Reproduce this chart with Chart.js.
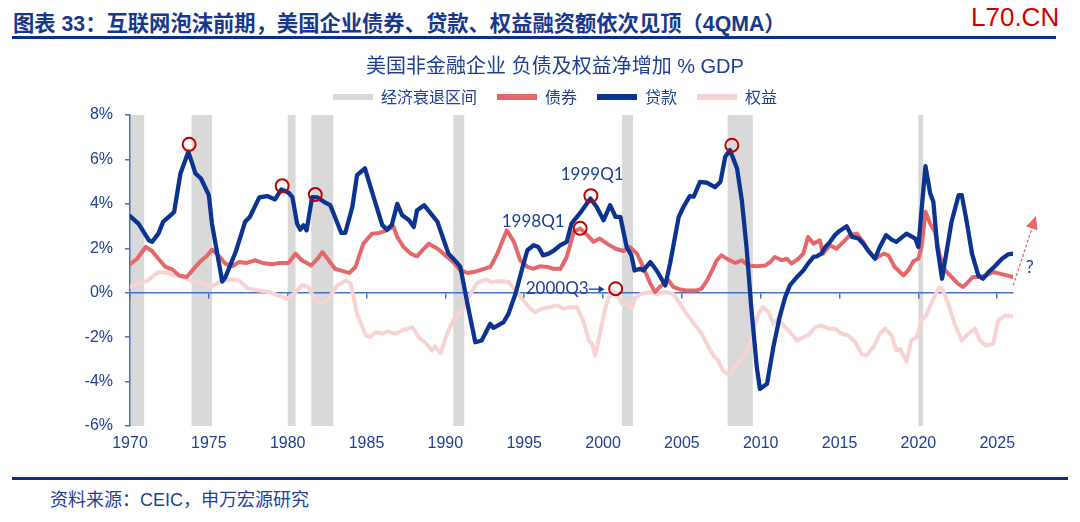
<!DOCTYPE html>
<html>
<head>
<meta charset="utf-8">
<script src="https://cdn.jsdelivr.net/npm/chart.js@4.4.1/dist/chart.umd.min.js"></script>
<style>
  body { margin: 0; width: 1080px; height: 522px; background: #fff; position: relative; overflow: hidden;
         font-family: "Liberation Sans", "Noto Sans CJK SC", sans-serif; }
  #head { position: absolute; left: 13px; top: 11px; font-size: 21.3px; line-height: 26px; font-weight: bold; color: #17388c; white-space: nowrap; }
  #brand { position: absolute; left: 971px; top: 2px; font-size: 26px; line-height: 30px; color: #d40000; }
  #rule { position: absolute; left: 12px; top: 36px; width: 1044px; height: 3px; background: #0b2f8c; }
  #wrap { position: absolute; left: 0; top: 40px; }
  #footRule { position: absolute; left: 12px; top: 477px; width: 1056px; height: 3px; background: #0b2f8c; }
  #foot { position: absolute; left: 50px; top: 489px; font-size: 18px; line-height: 22px; color: #1f3f96; white-space: nowrap; }
</style>
</head>
<body>
<div id="head">图表 33：互联网泡沫前期，美国企业债券、贷款、权益融资额依次见顶（4QMA）</div>
<div id="brand">L70.CN</div>
<div id="rule"></div>
<div id="wrap"><canvas id="chart" width="1080" height="420"></canvas></div>
<div id="footRule"></div>
<div id="foot">资料来源：CEIC，申万宏源研究</div>

<script>
// ---------- data ----------
const xTicks = [1970, 1975, 1980, 1985, 1990, 1995, 2000, 2005, 2010, 2015, 2020, 2025];
const yTicks = [-6, -4, -2, 0, 2, 4, 6, 8];

// recession periods (start, end)
const recessionStart = [1970.0, 1973.9, 1980.0, 1981.5, 1990.5, 2001.2, 2007.9, 2020.0];
const recessionEnd   = [1970.9, 1975.2, 1980.5, 1982.9, 1991.2, 2001.9, 2009.5, 2020.3];

// 贷款
const loanYears = [1970.0, 1970.55, 1971.2, 1971.4, 1971.8, 1972.1, 1972.6, 1972.8, 1973.2, 1973.7,
  1974.15, 1974.5, 1975.0, 1975.2, 1975.85, 1976.05, 1976.7, 1977.3, 1977.6, 1978.2,
  1978.7, 1979.2, 1979.6, 1980.06, 1980.3, 1980.6, 1980.8, 1981.0, 1981.2, 1981.55,
  1981.9, 1982.3, 1982.7, 1983.0, 1983.4, 1983.65, 1984.1, 1984.4, 1984.9, 1985.45,
  1986.0, 1986.3, 1986.6, 1986.95, 1987.25, 1987.7, 1988.0, 1988.2, 1988.65, 1989.15,
  1989.5, 1989.9, 1990.2, 1990.7, 1990.95, 1991.4, 1991.9, 1992.3, 1992.85, 1993.05,
  1993.7, 1994.0, 1994.45, 1994.9, 1995.2, 1995.6, 1995.9, 1996.2, 1996.55, 1996.9,
  1997.3, 1997.7, 1998.0, 1998.55, 1999.2, 1999.6, 2000.03, 2000.45, 2000.8, 2001.1,
  2001.5, 2001.8, 2002.0, 2002.35, 2002.55, 2003.0, 2003.4, 2003.95, 2004.25, 2004.8,
  2005.1, 2005.5, 2005.75, 2006.15, 2006.6, 2007.1, 2007.45, 2007.75, 2008.05, 2008.5,
  2008.8, 2009.1, 2009.4, 2009.75, 2009.95, 2010.4, 2010.8, 2011.2, 2011.55, 2011.85,
  2012.3, 2012.7, 2013.0, 2013.35, 2013.55, 2013.85, 2014.1, 2014.4, 2014.7, 2015.0,
  2015.45, 2015.8, 2016.2, 2016.5, 2016.8, 2017.25, 2017.55, 2017.95, 2018.3, 2018.6,
  2019.25, 2019.8, 2020.0, 2020.2, 2020.45, 2020.75, 2020.95, 2021.2, 2021.5, 2021.8,
  2022.1, 2022.55, 2022.75, 2023.05, 2023.4, 2023.8, 2024.1, 2024.45, 2024.85, 2025.3,
  2025.7, 2026.0];
const loanValues = [3.45, 3.1, 2.36, 2.29, 2.66, 3.19, 3.5, 3.64, 5.37, 6.35,
  5.37, 5.14, 4.39, 3.1, 0.5, 0.7, 1.83, 3.19, 3.41, 4.29,
  4.35, 4.2, 4.65, 4.5, 4.3, 3.1, 2.84, 3.04, 2.8, 4.3,
  4.29, 4.09, 3.94, 3.41, 2.69, 2.69, 3.86, 5.29, 5.6, 4.3,
  3.04, 2.84, 3.04, 4.0, 3.5, 3.26, 2.96, 3.7, 3.94, 3.5,
  3.19, 2.36, 1.76, 1.38, 1.16, -0.5, -2.23, -2.15, -1.4, -1.58,
  -1.32, -0.95, -0.05, 1.16, 1.91, 2.14, 2.06, 1.68, 1.76, 1.91,
  2.14, 2.29, 3.11, 3.59, 4.24, 3.86, 3.26, 3.94, 3.41, 3.41,
  2.06, 1.68, 1.0, 1.08, 1.0, 1.38, 1.0, 0.33, 1.31, 3.41,
  3.86, 4.35, 4.32, 4.99, 4.95, 4.75, 5.0, 6.12, 6.42, 5.59,
  4.17, 2.06, -0.65, -3.35, -4.33, -4.1, -2.45, -1.1, -0.2, 0.33,
  0.71, 1.0, 1.31, 1.61, 1.64, 1.76, 2.06, 2.29, 2.59, 2.78,
  2.99, 2.51, 2.44, 2.21, 1.91, 1.53, 2.06, 2.59, 2.39, 2.29,
  2.66, 2.44, 2.06, 3.71, 5.7, 4.47, 4.09, 2.06, 0.63, 1.91,
  3.19, 4.39, 4.39, 3.26, 1.76, 0.78, 0.63, 0.93, 1.19, 1.53,
  1.73, 1.76];

// 债券
const bondYears = [1970.0, 1970.45, 1971.0, 1971.4, 1971.8, 1972.25, 1972.7, 1973.1, 1973.6, 1974.05,
  1974.5, 1974.9, 1975.2, 1975.5, 1976.05, 1976.5, 1976.9, 1977.4, 1977.95, 1978.4,
  1979.0, 1979.5, 1980.05, 1980.5, 1980.9, 1981.5, 1981.9, 1982.2, 1982.6, 1983.0,
  1983.45, 1983.9, 1984.3, 1984.8, 1985.35, 1985.8, 1986.3, 1986.7, 1986.95, 1987.35,
  1987.8, 1988.2, 1988.6, 1988.95, 1989.5, 1990.0, 1990.5, 1990.95, 1991.4, 1991.8,
  1992.3, 1992.85, 1993.3, 1993.9, 1994.35, 1994.75, 1995.2, 1995.6, 1996.0, 1996.45,
  1996.85, 1997.3, 1997.7, 1998.15, 1998.55, 1999.0, 1999.4, 1999.8, 2000.25, 2000.8,
  2001.3, 2001.7, 2002.15, 2002.55, 2003.0, 2003.3, 2003.6, 2004.15, 2004.45, 2004.9,
  2005.3, 2005.95, 2006.25, 2006.6, 2006.95, 2007.2, 2007.5, 2007.95, 2008.4, 2008.8,
  2009.2, 2009.75, 2010.3, 2010.6, 2010.9, 2011.35, 2011.65, 2011.95, 2012.4, 2012.7,
  2013.0, 2013.35, 2013.75, 2013.95, 2014.4, 2014.8, 2015.25, 2015.65, 2016.1, 2016.5,
  2016.8, 2017.25, 2017.8, 2018.1, 2018.5, 2019.05, 2019.35, 2019.7, 2020.0, 2020.2,
  2020.45, 2020.75, 2021.05, 2021.35, 2021.7, 2022.1, 2022.5, 2022.85, 2023.15, 2023.45,
  2023.9, 2024.3, 2024.75, 2025.15, 2025.6, 2026.0];
const bondValues = [1.28, 1.53, 2.06, 1.88, 1.53, 1.16, 1.04, 0.78, 0.71, 1.08,
  1.43, 1.68, 1.94, 1.76, 1.31, 1.19, 1.38, 1.34, 1.46, 1.34,
  1.28, 1.34, 1.34, 1.76, 1.46, 1.23, 1.53, 1.83, 1.46, 1.08,
  0.98, 0.89, 1.16, 2.21, 2.66, 2.69, 2.81, 2.99, 2.51, 2.06,
  1.76, 1.64, 1.95, 2.21, 1.98, 1.68, 1.38, 1.0, 0.89, 0.93,
  1.04, 1.16, 1.76, 2.81, 2.29, 1.46, 1.16, 1.08, 1.19, 1.16,
  1.08, 1.08, 1.61, 2.74, 2.89, 2.59, 2.29, 2.44, 2.21, 1.98,
  1.88, 2.06, 1.76, 1.16, 0.41, 0.03, 0.26, 0.56, 0.26, 0.14,
  0.1, 0.1, 0.18, 0.56, 1.05, 1.45, 1.68, 1.49, 1.34, 1.46,
  1.23, 1.19, 1.23, 1.38, 1.61, 1.46, 1.53, 1.31, 1.53, 1.76,
  2.51, 2.21, 2.36, 1.76, 2.14, 1.98, 2.29, 2.59, 2.66, 2.29,
  1.91, 1.53, 1.76, 1.68, 1.16, 0.78, 1.0, 1.43, 1.53, 2.06,
  3.64, 3.11, 2.74, 1.68, 1.0, 0.71, 0.41, 0.26, 0.48, 0.71,
  0.71, 0.78, 0.93, 0.86, 0.78, 0.71];

// 权益
const equityYears = [1970.0, 1970.55, 1971.1, 1971.4, 1971.8, 1972.35, 1972.8, 1973.3, 1973.85, 1974.5,
  1975.0, 1975.3, 1975.8, 1976.35, 1976.9, 1977.5, 1978.2, 1978.8, 1979.4, 1979.95,
  1980.4, 1980.9, 1981.3, 1981.75, 1982.2, 1982.6, 1983.15, 1983.7, 1984.0, 1984.4,
  1984.95, 1985.25, 1985.6, 1986.0, 1986.3, 1986.85, 1987.35, 1987.9, 1988.3, 1988.8,
  1989.15, 1989.35, 1989.7, 1990.1, 1990.5, 1991.05, 1991.6, 1992.0, 1992.55, 1993.0,
  1993.5, 1994.0, 1994.45, 1994.95, 1995.4, 1995.7, 1996.1, 1996.65, 1997.1, 1997.5,
  1997.9, 1998.35, 1998.75, 1999.1, 1999.3, 1999.5, 1999.8, 2000.15, 2000.55, 2000.9,
  2001.2, 2001.5, 2001.8, 2002.05, 2002.45, 2003.0, 2003.4, 2003.95, 2004.45, 2004.9,
  2005.3, 2005.85, 2006.25, 2006.7, 2007.0, 2007.3, 2007.6, 2008.05, 2008.5, 2008.9,
  2009.2, 2009.5, 2009.85, 2010.15, 2010.5, 2010.8, 2011.1, 2011.55, 2011.95, 2012.3,
  2012.7, 2013.0, 2013.45, 2013.85, 2014.3, 2014.7, 2015.15, 2015.55, 2016.0, 2016.4,
  2016.7, 2017.15, 2017.55, 2017.9, 2018.3, 2018.6, 2018.85, 2019.25, 2019.55, 2019.9,
  2020.2, 2020.5, 2020.85, 2021.3, 2021.5, 2021.9, 2022.3, 2022.75, 2023.15, 2023.6,
  2023.9, 2024.3, 2024.75, 2025.05, 2025.5, 2026.0];
const equityValues = [0.26, 0.44, 0.53, 0.71, 0.93, 0.9, 0.78, 0.71, 0.56, 0.48,
  0.26, 0.33, 0.53, 0.59, 0.56, 0.18, 0.1, 0.03, -0.12, -0.27,
  -0.05, 0.33, 0.26, -0.35, -0.5, -0.27, 0.33, 0.56, 0.41, -0.95,
  -1.92, -2.0, -1.77, -1.85, -1.73, -1.85, -1.67, -1.55, -2.0, -2.3,
  -2.6, -2.42, -2.72, -1.85, -1.25, -0.8, -0.05, 0.44, 0.59, 0.48,
  0.53, 0.48, 0.1, -0.35, -0.72, -0.87, -0.72, -0.65, -0.57, -0.72,
  -0.65, -0.65, -1.25, -2.15, -2.3, -2.83, -1.85, -0.65, 0.1, -0.05,
  -0.5, -0.5, -0.72, -0.2, -0.05, 0.03, -0.08, 0.03, -0.05, -0.5,
  -0.95, -1.47, -1.85, -2.45, -2.83, -3.05, -3.5, -3.73, -3.2, -2.9,
  -2.53, -1.85, -0.95, -0.65, -0.87, -1.4, -1.17, -1.55, -1.85, -2.15,
  -2.0, -1.92, -1.55, -1.47, -1.62, -1.62, -1.85, -1.92, -2.23, -2.75,
  -2.83, -2.45, -1.85, -1.62, -1.92, -2.6, -2.53, -3.13, -2.15, -2.0,
  -1.25, -1.02, -0.42, 0.23, 0.18, -0.5, -1.4, -2.15, -1.85, -1.62,
  -2.15, -2.38, -2.3, -1.25, -1.02, -1.07];

// circled peaks
const peakYears  = [1973.75, 1979.65, 1981.75, 1998.55, 1999.23, 2000.8, 2008.17];
const peakValues = [6.68, 4.81, 4.42, 2.9, 4.37, 0.18, 6.64];

// text notes (centre of text)
const noteTexts  = ["1999Q1", "1998Q1", "2000Q3", "?"];
const noteYears  = [1999.31, 1995.57, 1997.09, 2027.07];
const noteValues = [5.31, 3.19, 0.17, 1.16];

// ---------- styles ----------
const AXIS = "#4472C4";
const TEXT = "#1f3f96";
const LOAN = "#0B3491";
const BOND = "#E4676A";
const EQUITY = "#F8D3D3";
const GREY = "#D9D9D9";
const CIRCLE = "#C00000";

const pts = (xs, ys) => xs.map((x, i) => ({ x, y: ys[i] }));
const setTicks = (list) => (scale) => { scale.ticks = list.map((v) => ({ value: v })); };

const recessionBands = {
  id: "recessionBands",
  beforeDraw(chart) {
    const { ctx, chartArea, scales } = chart;
    ctx.save();
    ctx.fillStyle = GREY;
    recessionStart.forEach((s, i) => {
      const x1 = scales.x.getPixelForValue(s);
      const x2 = scales.x.getPixelForValue(recessionEnd[i]);
      ctx.fillRect(x1, chartArea.top, x2 - x1, chartArea.bottom - chartArea.top);
    });
    ctx.restore();
  },
};

function arrowHead(ctx, x1, y1, x2, y2, len, half) {
  const a = Math.atan2(y2 - y1, x2 - x1);
  ctx.beginPath();
  ctx.moveTo(x2, y2);
  ctx.lineTo(x2 - len * Math.cos(a) + half * Math.sin(a), y2 - len * Math.sin(a) - half * Math.cos(a));
  ctx.lineTo(x2 - len * Math.cos(a) - half * Math.sin(a), y2 - len * Math.sin(a) + half * Math.cos(a));
  ctx.closePath();
  ctx.fill();
}

const notes = {
  id: "notes",
  afterDraw(chart) {
    const { ctx, scales } = chart;
    const X = (v) => scales.x.getPixelForValue(v);
    const Y = (v) => scales.y.getPixelForValue(v);
    ctx.save();
    ctx.fillStyle = TEXT;
    ctx.textAlign = "center";
    ctx.textBaseline = "middle";
    noteTexts.forEach((t, i) => {
      ctx.font = (t === "?" ? "18px" : "17px") + " Lato, 'Liberation Sans', sans-serif";
      ctx.fillText(t, X(noteYears[i]), Y(noteValues[i]));
    });

    // small arrow 2000Q3 -> circle
    const ay = Y(0.16);
    const ax1 = X(1999.1), ax2 = X(2000.1);
    ctx.strokeStyle = TEXT;
    ctx.lineWidth = 1.3;
    ctx.beginPath();
    ctx.moveTo(ax1, ay);
    ctx.lineTo(ax2 - 4, ay);
    ctx.stroke();
    arrowHead(ctx, ax1, ay, ax2, ay, 6, 3.5);

    // dashed red arrow after last point
    const sx = X(2026.02), sy = Y(0.33);
    const tx = X(2027.45), ty = Y(3.45);
    const ang = Math.atan2(ty - sy, tx - sx);
    ctx.strokeStyle = BOND;
    ctx.fillStyle = BOND;
    ctx.lineWidth = 1.3;
    ctx.setLineDash([3, 2]);
    ctx.beginPath();
    ctx.moveTo(sx, sy);
    ctx.lineTo(tx - 10 * Math.cos(ang), ty - 10 * Math.sin(ang));
    ctx.stroke();
    ctx.setLineDash([]);
    arrowHead(ctx, sx, sy, tx, ty, 13, 6);
    ctx.restore();
  },
};

const legendItems = [
  { text: "经济衰退区间", fillStyle: GREY },
  { text: "债券", fillStyle: BOND },
  { text: "贷款", fillStyle: LOAN },
  { text: "权益", fillStyle: EQUITY },
];

new Chart(document.getElementById("chart"), {
  type: "line",
  data: {
    datasets: [
      {
        label: "peaks",
        data: pts(peakYears, peakValues),
        showLine: false,
        pointRadius: 6.5,
        pointHoverRadius: 6.5,
        pointBorderWidth: 2,
        pointBorderColor: CIRCLE,
        pointBackgroundColor: "rgba(0,0,0,0)",
      },
      { label: "贷款", data: pts(loanYears, loanValues), borderColor: LOAN, borderWidth: 4.3 },
      { label: "债券", data: pts(bondYears, bondValues), borderColor: BOND, borderWidth: 4 },
      { label: "权益", data: pts(equityYears, equityValues), borderColor: EQUITY, borderWidth: 4 },
    ],
  },
  options: {
    responsive: false,
    animation: false,
    devicePixelRatio: 1,
    events: [],
    elements: {
      point: { radius: 0 },
      line: { tension: 0, borderJoinStyle: "round", borderCapStyle: "round" },
    },
    layout: { padding: { left: 30, right: 0, top: 0, bottom: 4 } },
    plugins: {
      tooltip: { enabled: false },
      title: {
        display: true,
        text: "美国非金融企业 负债及权益净增加 % GDP",
        color: TEXT,
        font: { family: "'Liberation Sans', 'Noto Sans CJK SC'", size: 20, weight: "normal" },
        padding: { top: 15, bottom: -10 },
      },
      legend: {
        display: true,
        labels: {
          boxWidth: 40,
          boxHeight: 6,
          padding: 20,
          color: TEXT,
          font: { family: "'Noto Sans CJK SC'", size: 16 },
          generateLabels: () =>
            legendItems.map((it) => ({
              text: it.text,
              fillStyle: it.fillStyle,
              strokeStyle: it.fillStyle,
              lineWidth: 0,
              hidden: false,
              fontColor: TEXT,
            })),
        },
      },
    },
    scales: {
      x: {
        type: "linear",
        min: 1970,
        max: 2026,
        afterBuildTicks: setTicks(xTicks),
        afterFit: (s) => { s.height = 30; },
        grid: { display: false },
        border: { display: false },
        ticks: {
          padding: 0,
          color: TEXT,
          font: { family: "'Liberation Sans'", size: 16 },
          callback: (v) => String(v),
          maxRotation: 0,
        },
      },
      x0: {
        type: "linear",
        min: 1970,
        max: 2026,
        position: { y: 0 },
        afterBuildTicks: setTicks(xTicks),
        afterFit: (s) => { s.height = 0; },
        ticks: { display: false },
        grid: { drawOnChartArea: false, drawTicks: true, tickLength: 5, color: AXIS, lineWidth: 1.5 },
        border: { color: AXIS, width: 1.5 },
      },
      y: {
        min: -6,
        max: 8,
        afterBuildTicks: setTicks(yTicks),
        afterFit: (s) => { s.width = 100; },
        grid: { drawOnChartArea: false, drawTicks: true, tickLength: 5, color: AXIS, lineWidth: 1.5 },
        border: { color: AXIS, width: 1.5 },
        ticks: {
          padding: 12,
          color: TEXT,
          font: { family: "'Liberation Sans'", size: 16 },
          callback: (v) => v + "%",
        },
      },
      yR: {
        position: "right",
        afterFit: (s) => { s.width = 67; },
        grid: { display: false },
        border: { display: false },
        ticks: { display: false },
      },
    },
  },
  plugins: [recessionBands, notes],
});
</script>
</body>
</html>
